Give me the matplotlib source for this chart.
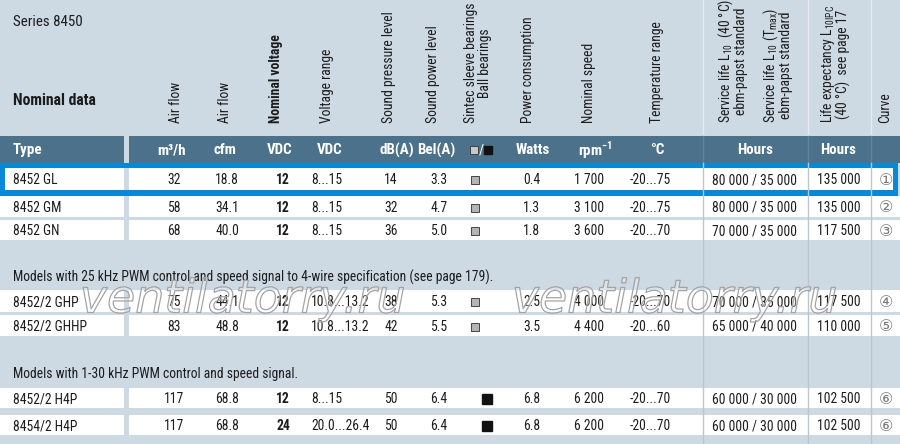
import matplotlib
matplotlib.use("Agg")
from matplotlib import pyplot as plt, patches, patheffects
from matplotlib import font_manager

# table data
types = ['8452 GL', '8452 GM', '8452 GN', '8452/2 GHP', '8452/2 GHHP', '8452/2 H4P', '8454/2 H4P']
airflow_m3h = [32, 58, 68, 75, 83, 117, 117]
airflow_cfm = [18.8, 34.1, 40.0, 44.1, 48.8, 68.8, 68.8]
nominal_voltage = [12, 12, 12, 12, 12, 12, 24]
voltage_range = ['8...15', '8...15', '8...15', '10.8...13.2', '10.8...13.2', '8...15', '20.0...26.4']
sound_pressure = [14, 32, 36, 38, 42, 50, 50]
sound_power = [3.3, 4.7, 5.0, 5.3, 5.5, 6.4, 6.4]
bearings = ['sleeve', 'sleeve', 'sleeve', 'sleeve', 'sleeve', 'ball', 'ball']
power = [0.4, 1.3, 1.8, 2.5, 3.5, 6.8, 6.8]
speed = [1700, 3100, 3600, 4000, 4400, 6200, 6200]
temp_range = ['-20...75', '-20...75', '-20...70', '-20...70', '-20...60', '-20...70', '-20...70']
service_life = ['80 000 / 35 000', '80 000 / 35 000', '70 000 / 35 000', '70 000 / 35 000',
                '65 000 / 40 000', '60 000 / 30 000', '60 000 / 30 000']
life_expectancy = [135000, 135000, 117500, 117500, 110000, 102500, 102500]
curve = [1, 2, 3, 4, 5, 6, 6]

section_notes = ['Models with 25 kHz PWM control and speed signal to 4-wire specification (see page 179).',
                 'Models with 1-30 kHz PWM control and speed signal.']

header_labels = ['Air flow', 'Air flow', 'Nominal voltage', 'Voltage range', 'Sound pressure level',
                 'Sound power level', 'Sintec sleeve bearings\nBall bearings', 'Power consumption',
                 'Nominal speed', 'Temperature range',
                 'Service life L$_{\\mathregular{10}}$  (40 °C)\nebm-papst standard',
                 'Service life L$_{\\mathregular{10}}$ (T$_{\\mathregular{max}}$)\nebm-papst standard',
                 'Life expectancy L$_{\\mathregular{10IPC}}$\n(40 °C)  see page 17',
                 'Curve']
unit_labels = ['m³/h', 'cfm', 'VDC', 'VDC', 'dB(A)', 'Bel(A)', '', 'Watts',
               'rpm$^{\\mathregular{-1}}$', '°C', 'Hours', 'Hours', '']


def pick_font():
    ents = font_manager.fontManager.ttflist
    for fam in ['Liberation Sans Narrow', 'Roboto Condensed', 'Open Sans Condensed',
                'Noto Sans Condensed', 'DejaVu Sans Condensed']:
        if any(e.name == fam for e in ents):
            return fam, 'normal', True
    for fam in ['Noto Sans', 'DejaVu Sans', 'Roboto', 'Open Sans']:
        if any(e.name == fam and str(e.stretch) in ('condensed', 'semi-condensed', '75', '87.5')
               for e in ents):
            return fam, 'condensed', True
    return 'Liberation Sans', 'normal', False


fam, stretch, narrow = pick_font()
plt.rcParams['font.family'] = [fam, 'DejaVu Sans']
plt.rcParams['font.stretch'] = stretch
plt.rcParams['mathtext.fontset'] = 'custom'
plt.rcParams['mathtext.rm'] = fam
k = 1.0 if narrow else 0.88
fs = 9.8 * k        # table cells and notes
fs_head = 9.8 * k   # rotated column headers
fs_band = 10.8 * k  # units in the dark band

BG = '#cdd9e3'
BAND = '#4b728a'
BLUE = '#0a88d8'
TXT = '#1c1c1c'

fig = plt.figure(figsize=(9, 4.44), dpi=100)
fig.patch.set_facecolor(BG)
ax = fig.add_axes([0, 0, 1, 1])
ax.set_xlim(0, 900)
ax.set_ylim(444, 0)
ax.axis('off')

# vertical divider lines
for xv in [703, 808, 871]:
    ax.plot([xv, xv], [0, 136], color='#e4eaef', lw=1, zorder=1)
    ax.plot([xv, xv], [136, 163], color='#5f8399', lw=1, zorder=3)
    ax.plot([xv, xv], [163, 444], color='#bcc6cf', lw=1, zorder=3)

# header text
ax.text(13, 22, 'Series 8450', fontsize=10.8 * k, color=TXT, va='center')
ax.text(13, 100, 'Nominal data', fontsize=11.3 * k, fontweight='bold', color=TXT, va='center')

head_x = [176, 225, 276, 327, 389, 433, 478, 528, 589, 657, 732, 777, 835, 885]
for hx, lab in zip(head_x, header_labels):
    ax.text(hx, 123, lab, rotation=90, ha='center', va='bottom', fontsize=fs_head,
            color=TXT, fontweight='bold' if lab == 'Nominal voltage' else 'normal',
            linespacing=0.95)

# dark unit band
ax.add_patch(patches.Rectangle((0, 136), 124, 27, facecolor=BAND, edgecolor='none', zorder=2))
ax.add_patch(patches.Rectangle((129, 136), 771, 27, facecolor=BAND, edgecolor='none', zorder=2))
ax.text(13, 150, 'Type', color='white', fontsize=fs_band, fontweight='bold', va='center', zorder=4)
unit_x = [172, 225, 280, 330, 397, 436, 480, 533, 595, 657, 755, 838, 885]
for ux, lab in zip(unit_x, unit_labels):
    ax.text(ux, 150, lab, color='white', fontsize=fs_band, fontweight='bold',
            ha='center', va='center', zorder=4)
ax.plot([474], [150], marker='s', ms=5.5, color='#c8c8c8', mec='#333333', mew=0.6, zorder=4)
ax.text(481, 150, '/', color='white', fontsize=fs, ha='center', va='center', zorder=4)
ax.plot([488], [150], marker='s', ms=6, color='#111111', zorder=4)

# highlight frame of first row
ax.add_patch(patches.Rectangle((0, 163), 898, 33, facecolor=BLUE, edgecolor='none', zorder=2))

row_top = [168, 196, 220, 290, 315, 388, 415]
row_bot = [190, 217, 240, 312, 336, 408, 435]
for i, (t, b) in enumerate(zip(row_top, row_bot)):
    x0 = 5 if i == 0 else 0
    x1 = 893 if i == 0 else 900
    ax.add_patch(patches.Rectangle((x0, t), 124 - x0, b - t, facecolor='white', edgecolor='none', zorder=2))
    ax.add_patch(patches.Rectangle((129, t), x1 - 129, b - t, facecolor='white', edgecolor='none', zorder=2))
    if i == 0:
        ax.add_patch(patches.Rectangle((124, t), 5, b - t, facecolor=BG, edgecolor='none', zorder=2))

ax.text(13, 277, section_notes[0], fontsize=fs, color=TXT, va='center', zorder=4)
ax.text(13, 374, section_notes[1], fontsize=fs, color=TXT, va='center', zorder=4)

for i in range(len(types)):
    y = (row_top[i] + row_bot[i]) / 2 + 1
    kw = dict(fontsize=fs, color=TXT, va='center', zorder=4)
    ax.text(13, y, types[i], **kw)
    ax.text(174, y, f'{airflow_m3h[i]}', ha='center', **kw)
    ax.text(227, y, f'{airflow_cfm[i]:.1f}', ha='center', **kw)
    ax.text(283, y, f'{nominal_voltage[i]}', ha='center', fontweight='bold', **kw)
    ax.text(311, y, voltage_range[i], ha='left', **kw)
    ax.text(391, y, f'{sound_pressure[i]}', ha='center', **kw)
    ax.text(439, y, f'{sound_power[i]:.1f}', ha='center', **kw)
    if bearings[i] == 'sleeve':
        ax.plot([475], [y], marker='s', ms=6, color='#b4b4b4', mec='#444444', mew=0.7, zorder=4)
    else:
        ax.plot([487], [y], marker='s', ms=7, color='#111111', zorder=4)
    ax.text(532, y, f'{power[i]:.1f}', ha='center', **kw)
    ax.text(589, y, f'{speed[i]:,}'.replace(',', ' '), ha='center', **kw)
    ax.text(650, y, temp_range[i], ha='center', **kw)
    ax.text(755, y, service_life[i], ha='center', **kw)
    ax.text(839, y, f'{life_expectancy[i]:,}'.replace(',', ' '), ha='center', **kw)
    ax.text(886, y, chr(0x2460 + curve[i] - 1), ha='center', fontsize=11.5, color='#7a7a7a',
            va='center', zorder=4, family=['DejaVu Sans'], stretch='normal')

# watermark (outlined, nearly transparent letters)
for wx in [243, 675]:
    ax.text(wx, 300, 'ventilatorry.ru', fontsize=33, style='italic', family=['DejaVu Sans'],
            stretch='normal', ha='center', va='center', color=(1, 1, 1, 0.3), zorder=6,
            path_effects=[patheffects.Stroke(linewidth=0.9, foreground='#a4a4a4')])

fig.savefig('out.png', dpi=100, facecolor=BG)
